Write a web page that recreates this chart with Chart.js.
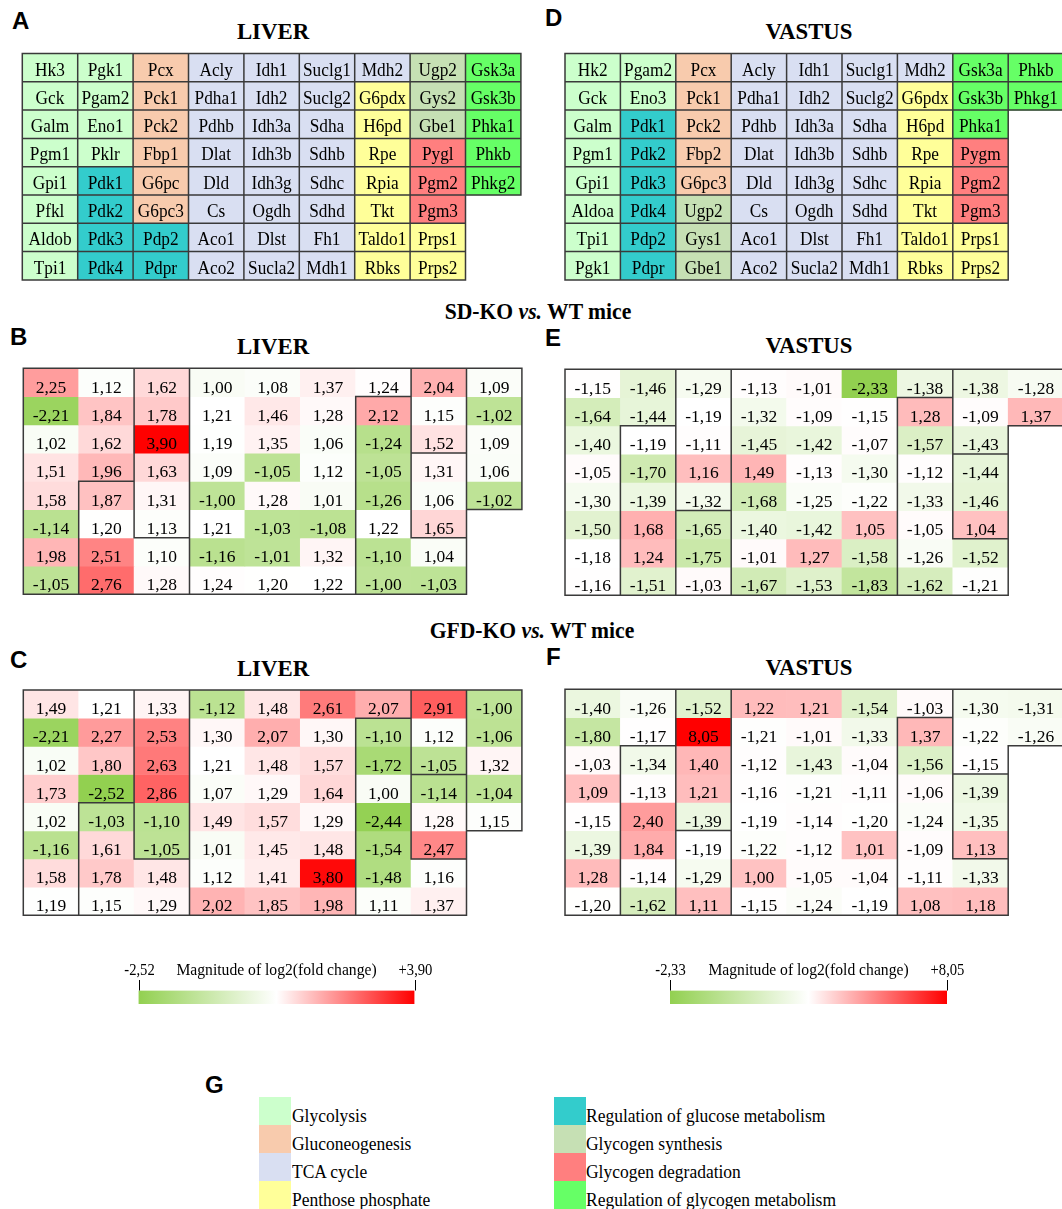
<!DOCTYPE html>
<html>
<head>
<meta charset="utf-8">
<script src="https://cdn.jsdelivr.net/npm/chart.js@4.4.1/dist/chart.umd.min.js"></script>
<style>
  html, body { margin: 0; padding: 0; background: #fff; }
  body { position: relative; width: 1062px; height: 1209px; overflow: hidden;
         font-family: "Liberation Serif", "Times New Roman", serif; color: #000; }
  canvas { position: absolute; }
  .t { position: absolute; line-height: 1; white-space: nowrap; }
  .letter { font-family: "Liberation Sans", Arial, sans-serif; font-weight: bold; font-size: 24px; }
  .title { font-weight: bold; font-size: 24px; transform: translateX(-50%) scaleX(0.95); }
  .head { font-weight: bold; font-size: 23px; transform: translateX(-50%) scaleX(0.94); }
  .sw { position: absolute; width: 32px; height: 28px; }
  .lg { position: absolute; font-size: 19px; line-height: 1; white-space: nowrap;
        transform: scaleX(0.92); transform-origin: left center; }
</style>
</head>
<body>

<div class="t letter" style="left:12px;top:9px">A</div>
<div class="t letter" style="left:545px;top:6px">D</div>
<div class="t letter" style="left:10px;top:325px">B</div>
<div class="t letter" style="left:545px;top:326px">E</div>
<div class="t letter" style="left:10px;top:648px">C</div>
<div class="t letter" style="left:546px;top:645px">F</div>
<div class="t letter" style="left:205px;top:1073px">G</div>

<div class="t title" style="left:273px;top:19px">LIVER</div>
<div class="t title" style="left:809px;top:19px">VASTUS</div>
<div class="t title" style="left:273px;top:334px">LIVER</div>
<div class="t title" style="left:809px;top:333px">VASTUS</div>
<div class="t title" style="left:273px;top:656px">LIVER</div>
<div class="t title" style="left:809px;top:655px">VASTUS</div>

<div class="t head" style="left:538px;top:300px">SD-KO <i>vs.</i> WT mice</div>
<div class="t head" style="left:532px;top:619px">GFD-KO <i>vs.</i> WT mice</div>

<canvas id="panelA"></canvas>
<canvas id="panelD"></canvas>
<canvas id="panelB"></canvas>
<canvas id="panelE"></canvas>
<canvas id="panelC"></canvas>
<canvas id="panelF"></canvas>
<canvas id="barLiver"></canvas>
<canvas id="barVastus"></canvas>

<div id="legend"></div>

<script>
// ---- data ----
const cols = ['1', '2', '3', '4', '5', '6', '7', '8', '9'];

const liverGenes = [
  ['Hk3', 'Pgk1', 'Pcx', 'Acly', 'Idh1', 'Suclg1', 'Mdh2', 'Ugp2', 'Gsk3a'],
  ['Gck', 'Pgam2', 'Pck1', 'Pdha1', 'Idh2', 'Suclg2', 'G6pdx', 'Gys2', 'Gsk3b'],
  ['Galm', 'Eno1', 'Pck2', 'Pdhb', 'Idh3a', 'Sdha', 'H6pd', 'Gbe1', 'Phka1'],
  ['Pgm1', 'Pklr', 'Fbp1', 'Dlat', 'Idh3b', 'Sdhb', 'Rpe', 'Pygl', 'Phkb'],
  ['Gpi1', 'Pdk1', 'G6pc', 'Dld', 'Idh3g', 'Sdhc', 'Rpia', 'Pgm2', 'Phkg2'],
  ['Pfkl', 'Pdk2', 'G6pc3', 'Cs', 'Ogdh', 'Sdhd', 'Tkt', 'Pgm3'],
  ['Aldob', 'Pdk3', 'Pdp2', 'Aco1', 'Dlst', 'Fh1', 'Taldo1', 'Prps1'],
  ['Tpi1', 'Pdk4', 'Pdpr', 'Aco2', 'Sucla2', 'Mdh1', 'Rbks', 'Prps2'],
];
// G glycolysis, N gluconeogenesis, T TCA, P pentose, R reg. glucose,
// S glycogen synthesis, D glycogen degradation, K reg. glycogen
const liverGroups = ['GGNTTTTSK', 'GGNTTTPSK', 'GGNTTTPSK', 'GGNTTTPDK',
                     'GRNTTTPDK', 'GRNTTTPD', 'GRRTTTPP', 'GRRTTTPP'];

const vastusGenes = [
  ['Hk2', 'Pgam2', 'Pcx', 'Acly', 'Idh1', 'Suclg1', 'Mdh2', 'Gsk3a', 'Phkb'],
  ['Gck', 'Eno3', 'Pck1', 'Pdha1', 'Idh2', 'Suclg2', 'G6pdx', 'Gsk3b', 'Phkg1'],
  ['Galm', 'Pdk1', 'Pck2', 'Pdhb', 'Idh3a', 'Sdha', 'H6pd', 'Phka1'],
  ['Pgm1', 'Pdk2', 'Fbp2', 'Dlat', 'Idh3b', 'Sdhb', 'Rpe', 'Pygm'],
  ['Gpi1', 'Pdk3', 'G6pc3', 'Dld', 'Idh3g', 'Sdhc', 'Rpia', 'Pgm2'],
  ['Aldoa', 'Pdk4', 'Ugp2', 'Cs', 'Ogdh', 'Sdhd', 'Tkt', 'Pgm3'],
  ['Tpi1', 'Pdp2', 'Gys1', 'Aco1', 'Dlst', 'Fh1', 'Taldo1', 'Prps1'],
  ['Pgk1', 'Pdpr', 'Gbe1', 'Aco2', 'Sucla2', 'Mdh1', 'Rbks', 'Prps2'],
];
const vastusGroups = ['GGNTTTTKK', 'GGNTTTPKK', 'GRNTTTPK', 'GRNTTTPD',
                      'GRNTTTPD', 'GRSTTTPD', 'GRSTTTPP', 'GRSTTTPP'];

// fold changes, SD-KO vs WT
const sdLiver = [
  [2.25, 1.12, 1.62, 1.00, 1.08, 1.37, 1.24, 2.04, 1.09],
  [-2.21, 1.84, 1.78, 1.21, 1.46, 1.28, 2.12, 1.15, -1.02],
  [1.02, 1.62, 3.90, 1.19, 1.35, 1.06, -1.24, 1.52, 1.09],
  [1.51, 1.96, 1.63, 1.09, -1.05, 1.12, -1.05, 1.31, 1.06],
  [1.58, 1.87, 1.31, -1.00, 1.28, 1.01, -1.26, 1.06, -1.02],
  [-1.14, 1.20, 1.13, 1.21, -1.03, -1.08, 1.22, 1.65],
  [1.98, 2.51, 1.10, -1.16, -1.01, 1.32, -1.10, 1.04],
  [-1.05, 2.76, 1.28, 1.24, 1.20, 1.22, -1.00, -1.03],
];
const sdVastus = [
  [-1.15, -1.46, -1.29, -1.13, -1.01, -2.33, -1.38, -1.38, -1.28],
  [-1.64, -1.44, -1.19, -1.32, -1.09, -1.15, 1.28, -1.09, 1.37],
  [-1.40, -1.19, -1.11, -1.45, -1.42, -1.07, -1.57, -1.43],
  [-1.05, -1.70, 1.16, 1.49, -1.13, -1.30, -1.12, -1.44],
  [-1.30, -1.39, -1.32, -1.68, -1.25, -1.22, -1.33, -1.46],
  [-1.50, 1.68, -1.65, -1.40, -1.42, 1.05, -1.05, 1.04],
  [-1.18, 1.24, -1.75, -1.01, 1.27, -1.58, -1.26, -1.52],
  [-1.16, -1.51, -1.03, -1.67, -1.53, -1.83, -1.62, -1.21],
];
// fold changes, GFD-KO vs WT
const gfdLiver = [
  [1.49, 1.21, 1.33, -1.12, 1.48, 2.61, 2.07, 2.91, -1.00],
  [-2.21, 2.27, 2.53, 1.30, 2.07, 1.30, -1.10, 1.12, -1.06],
  [1.02, 1.80, 2.63, 1.21, 1.48, 1.57, -1.72, -1.05, 1.32],
  [1.73, -2.52, 2.86, 1.07, 1.29, 1.64, 1.00, -1.14, -1.04],
  [1.02, -1.03, -1.10, 1.49, 1.57, 1.29, -2.44, 1.28, 1.15],
  [-1.16, 1.61, -1.05, 1.01, 1.45, 1.48, -1.54, 2.47],
  [1.58, 1.78, 1.48, 1.12, 1.41, 3.80, -1.48, 1.16],
  [1.19, 1.15, 1.29, 2.02, 1.85, 1.98, 1.11, 1.37],
];
const gfdVastus = [
  [-1.40, -1.26, -1.52, 1.22, 1.21, -1.54, -1.03, -1.30, -1.31],
  [-1.80, -1.17, 8.05, -1.21, -1.01, -1.33, 1.37, -1.22, -1.26],
  [-1.03, -1.34, 1.40, -1.12, -1.43, -1.04, -1.56, -1.15],
  [1.09, -1.13, 1.21, -1.16, -1.21, -1.11, -1.06, -1.39],
  [-1.15, 2.40, -1.39, -1.19, -1.14, -1.20, -1.24, -1.35],
  [-1.39, 1.84, -1.19, -1.22, -1.12, 1.01, -1.09, 1.13],
  [1.28, -1.14, -1.29, 1.00, -1.05, -1.04, -1.11, -1.33],
  [-1.20, -1.62, 1.11, -1.15, -1.24, -1.19, 1.08, 1.18],
];

const groupColors = {
  G: '#CCFFCC', N: '#F8CBAD', T: '#D9DFF2', P: '#FFFF99',
  R: '#33CCCC', S: '#C6E0B4', D: '#FF7F7F', K: '#66FF66',
};
const legendLeft = [['G', 'Glycolysis'], ['N', 'Gluconeogenesis'], ['T', 'TCA cycle'], ['P', 'Penthose phosphate']];
const legendRight = [['R', 'Regulation of glucose metabolism'], ['S', 'Glycogen synthesis'],
                     ['D', 'Glycogen degradation'], ['K', 'Regulation of glycogen metabolism']];

// ---- colour scale (green - white at median - red) ----
const GREEN = [146, 208, 80], WHITE = [255, 255, 255], RED = [255, 0, 0];
const mix = (a, b, t) => 'rgb(' + a.map((v, i) => Math.round(v + (b[i] - v) * t)).join(',') + ')';

function makeScale(...tables) {
  const all = tables.flat(2).sort((a, b) => a - b);
  const n = all.length;
  const min = all[0], max = all[n - 1];
  const mid = n % 2 ? all[(n - 1) / 2] : (all[n / 2 - 1] + all[n / 2]) / 2;
  return {
    min, max, mid,
    color: v => v <= mid ? mix(WHITE, GREEN, (mid - v) / (mid - min)) : mix(WHITE, RED, (v - mid) / (max - mid)),
  };
}
const fmt = v => v.toFixed(2).replace('.', ',');

// ---- cell borders + text ----
const cellPlugin = {
  id: 'cells',
  afterDatasetsDraw(chart, args, o) {
    const ctx = chart.ctx;
    const boxes = [];
    chart.data.datasets.forEach((ds, r) => {
      chart.getDatasetMeta(r).data.forEach((el, c) => {
        if (ds.data[c] == null) return;
        const p = el.getProps(['x', 'y', 'base', 'width'], true);
        boxes.push({ r, c, x: p.x, l: p.x - p.width / 2, rt: p.x + p.width / 2,
                     t: Math.min(p.y, p.base), b: Math.max(p.y, p.base) });
      });
    });
    const g = (r, c) => (o.groups[r] || '')[c];

    ctx.save();
    ctx.strokeStyle = o.lineColor;
    ctx.lineWidth = o.lineWidth;
    ctx.lineCap = 'square';
    ctx.beginPath();
    boxes.forEach(bx => {
      const me = g(bx.r, bx.c);
      if (o.allLines || g(bx.r - 1, bx.c) !== me) { ctx.moveTo(bx.l, bx.t); ctx.lineTo(bx.rt, bx.t); }
      if (o.allLines || g(bx.r + 1, bx.c) !== me) { ctx.moveTo(bx.l, bx.b); ctx.lineTo(bx.rt, bx.b); }
      if (o.allLines || g(bx.r, bx.c - 1) !== me) { ctx.moveTo(bx.l, bx.t); ctx.lineTo(bx.l, bx.b); }
      if (o.allLines || g(bx.r, bx.c + 1) !== me) { ctx.moveTo(bx.rt, bx.t); ctx.lineTo(bx.rt, bx.b); }
    });
    ctx.stroke();

    ctx.fillStyle = '#000';
    ctx.font = o.font;
    ctx.textAlign = 'center';
    ctx.textBaseline = 'alphabetic';
    boxes.forEach(bx => {
      ctx.save();
      ctx.translate(bx.x, bx.b - o.baseOff);
      ctx.scale(o.sx, 1);
      ctx.fillText(o.texts[bx.r][bx.c], 0, 0);
      ctx.restore();
    });
    ctx.restore();
  }
};

function gridChart(id, spec) {
  const { left, top, cw, rh, texts, fill } = spec;
  const pad = 4;
  const canvas = document.getElementById(id);
  const w = cw * 9, h = rh * 8;
  const cl = Math.floor(left) - pad, ct = Math.floor(top) - pad;
  const W = Math.ceil(left + w + pad) - cl, H = Math.ceil(top + h + pad) - ct;
  canvas.width = W; canvas.height = H;
  canvas.style.left = cl + 'px'; canvas.style.top = ct + 'px';

  const datasets = texts.map((row, r) => ({
    data: cols.map((_, c) => row[c] === undefined ? null : [r, r + 1]),
    backgroundColor: cols.map((_, c) => row[c] === undefined ? 'rgba(0,0,0,0)' : fill(r, c)),
  }));

  return new Chart(canvas, {
    type: 'bar',
    data: { labels: cols, datasets },
    options: {
      responsive: false,
      animation: false,
      events: [],
      layout: { padding: { left: left - cl, top: top - ct, right: W - (left - cl) - w, bottom: H - (top - ct) - h } },
      datasets: { bar: { grouped: false, categoryPercentage: 1, barPercentage: 1, borderWidth: 0 } },
      scales: {
        x: { display: false },
        y: { display: false, min: 0, max: 8, reverse: true },
      },
      plugins: {
        legend: { display: false },
        tooltip: { enabled: false },
        cells: {
          texts, groups: spec.groups, allLines: spec.allLines,
          font: spec.font, baseOff: spec.baseOff, sx: spec.sx,
          lineColor: '#3a3a3a', lineWidth: 1.5,
        },
      },
    },
    plugins: [cellPlugin],
  });
}

const CW = 55.4;
const geneCell = { font: '18px "Liberation Serif"', baseOff: 6.3, sx: 0.96, allLines: true };
const valueCell = { font: '17.5px "Liberation Serif"', baseOff: 4, sx: 1, allLines: false };

// A / D: pathway maps
gridChart('panelA', Object.assign({
  left: 22.3, top: 53.5, cw: CW, rh: 28.3, texts: liverGenes, groups: liverGroups,
  fill: (r, c) => groupColors[liverGroups[r][c]],
}, geneCell));
gridChart('panelD', Object.assign({
  left: 565, top: 53.5, cw: CW, rh: 28.3, texts: vastusGenes, groups: vastusGroups,
  fill: (r, c) => groupColors[vastusGroups[r][c]],
}, geneCell));

// heatmaps
const liverScale = makeScale(sdLiver, gfdLiver);
const vastusScale = makeScale(sdVastus, gfdVastus);

function heat(id, left, top, rh, values, groups, scale) {
  gridChart(id, Object.assign({
    left, top, cw: CW, rh, groups,
    texts: values.map(row => row.map(fmt)),
    fill: (r, c) => scale.color(values[r][c]),
  }, valueCell));
}
heat('panelB', 23.3, 368.3, 28.25, sdLiver, liverGroups, liverScale);
heat('panelE', 565, 369.3, 28.25, sdVastus, vastusGroups, vastusScale);
heat('panelC', 23.3, 690, 28.17, gfdLiver, liverGroups, liverScale);
heat('panelF', 565, 689.3, 28.25, gfdVastus, vastusGroups, vastusScale);

// ---- colour bars ----
const barTicks = {
  id: 'barTicks',
  afterDraw(chart) {
    const { ctx, chartArea: a } = chart;
    const xs = chart.scales.x;
    const { min, max } = chart.options.scales.x;
    ctx.save();
    ctx.strokeStyle = '#000';
    ctx.lineWidth = 1;
    ctx.fillStyle = '#000';
    ctx.font = '17px "Liberation Serif"';
    ctx.textAlign = 'center';
    const base = a.top - 15.5;
    const label = (txt, x, sx) => {
      ctx.save(); ctx.translate(x, base); ctx.scale(sx, 1); ctx.fillText(txt, 0, 0); ctx.restore();
    };
    [min, max].forEach(v => {
      const px = Math.round(xs.getPixelForValue(v)) + 0.5;
      ctx.beginPath(); ctx.moveTo(px, a.top - 10.5); ctx.lineTo(px, a.top); ctx.stroke();
      label((v > 0 ? '+' : '') + fmt(v), px, 0.86);
    });
    label('Magnitude of log2(fold change)', (xs.left + xs.right) / 2, 0.92);
    ctx.restore();
  }
};

function colorBar(id, left, x0, x1, scale) {
  const top = 950, W = 360, H = 60;
  const canvas = document.getElementById(id);
  canvas.width = W; canvas.height = H;
  canvas.style.left = left + 'px'; canvas.style.top = top + 'px';
  new Chart(canvas, {
    type: 'bar',
    data: {
      labels: ['fc'],
      datasets: [{
        data: [[scale.min, scale.max]],
        backgroundColor: (c) => {
          const a = c.chart.chartArea;
          if (!a) return '#fff';
          const gr = c.chart.ctx.createLinearGradient(a.left, 0, a.right, 0);
          gr.addColorStop(0, mix(GREEN, GREEN, 0));
          gr.addColorStop(0.5, '#ffffff');
          gr.addColorStop(1, '#ff0000');
          return gr;
        },
      }],
    },
    options: {
      indexAxis: 'y',
      responsive: false,
      animation: false,
      events: [],
      layout: { padding: { left: x0 - left, right: left + W - x1, top: 990.5 - top, bottom: top + H - 1004 } },
      datasets: { bar: { categoryPercentage: 1, barPercentage: 1, borderWidth: 0 } },
      scales: {
        x: { display: false, min: scale.min, max: scale.max },
        y: { display: false },
      },
      plugins: { legend: { display: false }, tooltip: { enabled: false } },
    },
    plugins: [barTicks],
  });
}
colorBar('barLiver', 100, 138.5, 414.5, liverScale);
colorBar('barVastus', 632, 670, 947, vastusScale);

// ---- pathway legend ----
const legendEl = document.getElementById('legend');
function legendColumn(items, swX, txtX) {
  items.forEach(([k, name], i) => {
    const sw = document.createElement('div');
    sw.className = 'sw';
    sw.style.left = swX + 'px';
    sw.style.top = (1097 + i * 28) + 'px';
    sw.style.background = groupColors[k];
    legendEl.appendChild(sw);
    const tx = document.createElement('div');
    tx.className = 'lg';
    tx.style.left = txtX + 'px';
    tx.style.top = (1105.5 + i * 28) + 'px';
    tx.textContent = name;
    legendEl.appendChild(tx);
  });
}
legendColumn(legendLeft, 259, 292);
legendColumn(legendRight, 554, 586);
</script>
</body>
</html>
